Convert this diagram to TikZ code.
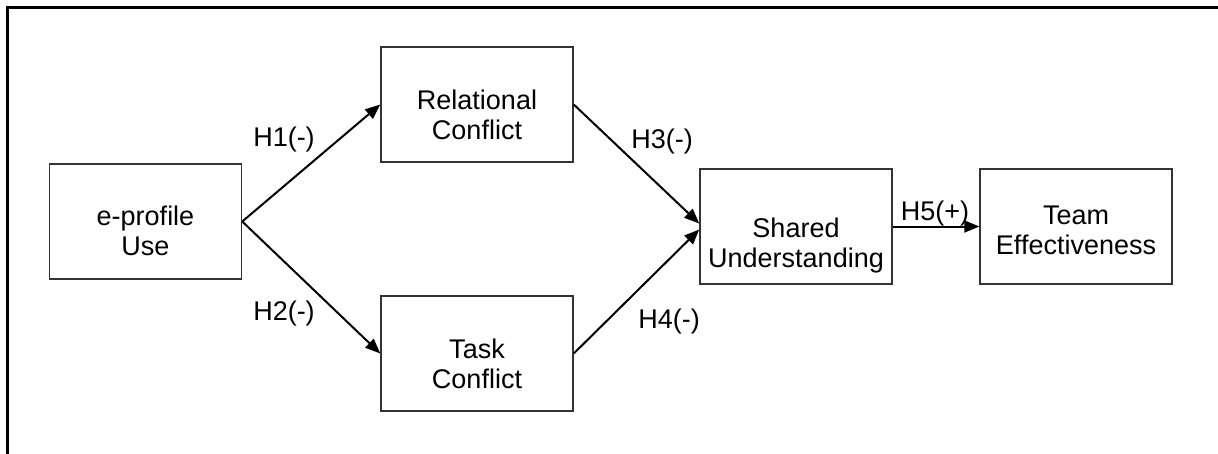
\documentclass[tikz,border=0pt]{standalone}
\usepackage{fontspec}
\setmainfont{Liberation Sans}
\usetikzlibrary{arrows,arrows.meta}
\usetikzlibrary{positioning}

\begin{document}
\begin{tikzpicture}[x=0.5pt,y=-0.5pt,->,>={Triangle[length=7.5pt,width=6pt]},
    main node/.style={rectangle,draw=black!80,line width=0.75pt,minimum width=96pt,minimum height=57.5pt},
    box text/.style={align=center,inner sep=0pt,font=\fontsize{13.5}{15}\selectfont},
    hyp node/.style={font=\fontsize{13.5}{15}\selectfont}]
  \useasboundingbox (0,0) rectangle (1218,454);
  % frame
  \draw[-,line width=1.5pt] (1218,8) -- (7,8) -- (7,454);
  \node[main node] (use) at (145.5,221.5) {};
  \node[main node] (rel) at (477,104.5) {};
  \node[main node] (task) at (477,353.5) {};
  \node[main node] (shared) at (796,226.5) {};
  \node[main node] (team) at (1076,226.5) {};
  \node[box text] (use text) at ([yshift=-4.5pt]use.center) {e-profile\\Use};
  \node[box text] (rel text) at ([yshift=-5pt]rel.center) {Relational\\Conflict};
  \node[box text] (task text) at ([yshift=-5pt]task.center) {Task\\Conflict};
  \node[box text] (shared text) at ([yshift=-9.5pt]shared.center) {Shared\\Understanding};
  \node[box text] (team text) at ([yshift=-2pt]team.center) {Team\\Effectiveness};
  \node[hyp node] (h1) at (284,140) {H1(-)};
  \node[hyp node] (h2) at (284,314) {H2(-)};
  \node[hyp node] (h3) at (662,142) {H3(-)};
  \node[hyp node] (h4) at (669,322) {H4(-)};
  \node[hyp node] (h5) at (935,214) {H5(+)};
  \path[line width=1pt] (use.east) edge (rel.west);
  \path[line width=1pt] (use.east) edge (task.west);
  \path[line width=1pt] (rel.east) edge ([yshift=1.5pt]shared.west);
  \path[line width=1pt] (task.east) edge ([yshift=-1.5pt]shared.west);
  \path[line width=1pt] (shared.east) edge (team.west);
\end{tikzpicture}
\end{document}
